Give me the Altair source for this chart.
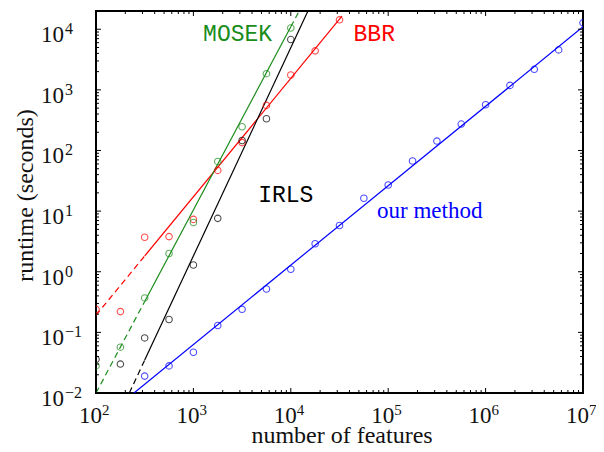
import altair as alt
import pandas as pd

# ---------------- data ----------------
features = [100, 178, 316, 562, 1000, 1778, 3162, 5623, 10000, 17783, 31623,
            56234, 100000, 177828, 316228, 562341, 1000000, 1778279, 3162278,
            5623413, 10000000]

bbr_runtime = [0.24, 0.22, 3.7, 3.8, 7.3, 47, 135, 555, 1760, 4400, 14300]
mosek_runtime = [0.028, 0.057, 0.37, 2.0, 6.5, 66, 246, 1850, 10500]
irls_runtime = [0.036, 0.030, 0.081, 0.163, 1.29, 7.6, 146, 334, 6760]
ours_runtime = [0.019, 0.028, 0.047, 0.13, 0.24, 0.52, 1.1, 2.9, 5.8, 16.3,
                27, 67, 143, 273, 569, 1186, 2183, 4565, 12760]

# fitted trend-line segments (series, style, x0, y0, x1, y1)
fit_series = ["BBR", "BBR", "MOSEK", "MOSEK", "MOSEK", "IRLS", "IRLS", "ours"]
fit_style = ["dashed", "solid", "dashed", "solid", "dashed", "dashed", "solid", "solid"]
fit_x0 = [100, 316.2, 100, 316.2, 10000, 219.8, 316.2, 245.5]
fit_y0 = [0.192, 1.82, 0.01, 0.3236, 10965, 0.01, 0.0349, 0.01]
fit_x1 = [316.2, 33500, 316.2, 10000, 12190, 316.2, 15000, 10000000]
fit_y1 = [1.82, 16400, 0.3236, 10965, 20000, 0.0349, 20000, 10965]

# text annotations
label_text = ["MOSEK", "BBR", "IRLS", "our method"]
label_series = ["MOSEK", "BBR", "IRLS", "ours"]
label_x = [1258, 44060, 4624, 76740]
label_y = [6500, 6500, 14.4, 7.64]

series_names = ["BBR", "MOSEK", "IRLS", "ours"]
series_colors = ["#ff0000", "#1a8c1a", "#000000", "#0000ff"]

# tick values and their labels (10 to the power shown)
x_major = [1e2, 1e3, 1e4, 1e5, 1e6, 1e7]
x_exp = ["2", "3", "4", "5", "6", "7"]
y_major = [1e-2, 1e-1, 1e0, 1e1, 1e2, 1e3, 1e4]
y_exp = ["\u22122", "\u22121", "0", "1", "2", "3", "4"]
x_minor = [k * 10.0 ** e for e in range(2, 7) for k in range(2, 10)]
y_minor = [k * 10.0 ** e for e in range(-2, 4) for k in range(2, 10)]

# ---------------- tables ----------------
rows = []
for name, vals, offset in [("BBR", bbr_runtime, 0), ("MOSEK", mosek_runtime, 0),
                           ("IRLS", irls_runtime, 0), ("ours", ours_runtime, 2)]:
    for i, v in enumerate(vals):
        rows.append({"series": name, "features": features[i + offset], "runtime": v})
points_df = pd.DataFrame(rows)

fits_df = pd.DataFrame({"series": fit_series, "style": fit_style,
                        "x0": fit_x0, "y0": fit_y0, "x1": fit_x1, "y1": fit_y1})
labels_df = pd.DataFrame({"text": label_text, "series": label_series,
                          "x": label_x, "y": label_y})
xlab_df = pd.DataFrame({"v": x_major, "base": ["10"] * len(x_major), "exp": x_exp})
ylab_df = pd.DataFrame({"v": y_major, "base": ["10"] * len(y_major), "exp": y_exp})

W, H = 487, 382
XDOM = [1e2, 1e7]
YDOM = [1e-2, 2e4]

SERIF = "Liberation Serif"
MONO = "Liberation Mono"
TXT = "#111111"

xscale = alt.Scale(type="log", domain=XDOM, nice=False)
yscale = alt.Scale(type="log", domain=YDOM, nice=False)
color = alt.Color("series:N", scale=alt.Scale(domain=series_names, range=series_colors), legend=None)

x_axis = alt.Axis(values=x_major, labels=False, ticks=False, tickSize=0, grid=False,
                  domain=False,
                  title="number of features", titleFont=SERIF, titleFontSize=24,
                  titleFontWeight="normal", titleColor=TXT, titleBaseline="alphabetic",
                  titleY=49, titleX=W / 2 + 2)
y_axis = alt.Axis(values=y_major, labels=False, ticks=False, tickSize=0, grid=False,
                  domain=False,
                  title="runtime (seconds)", titleFont=SERIF, titleFontSize=24,
                  titleFontWeight="normal", titleColor=TXT, titleBaseline="alphabetic",
                  titleAngle=-90, titleX=-64, titleY=184, titleAlign="center")

base_x = alt.X("features:Q", scale=xscale, axis=x_axis)
base_y = alt.Y("runtime:Q", scale=yscale, axis=y_axis)

pts = alt.Chart(points_df).mark_point(shape="circle", filled=False, size=42,
                                      strokeWidth=1.1, clip=True).encode(
    x=base_x, y=base_y, color=color)

solid = alt.Chart(fits_df).transform_filter("datum.style == 'solid'").mark_rule(
    strokeWidth=1.2, clip=True).encode(
    x=alt.X("x0:Q", scale=xscale), x2="x1:Q",
    y=alt.Y("y0:Q", scale=yscale), y2="y1:Q", color=color)
dashed = alt.Chart(fits_df).transform_filter("datum.style == 'dashed'").mark_rule(
    strokeWidth=1.2, strokeDash=[6, 4], clip=True).encode(
    x=alt.X("x0:Q", scale=xscale), x2="x1:Q",
    y=alt.Y("y0:Q", scale=yscale), y2="y1:Q", color=color)

mono_labels = alt.Chart(labels_df).transform_filter("datum.series != 'ours'").mark_text(
    font=MONO, fontSize=23, align="left", baseline="alphabetic").encode(
    x=alt.X("x:Q", scale=xscale), y=alt.Y("y:Q", scale=yscale), text="text:N", color=color)
serif_labels = alt.Chart(labels_df).transform_filter("datum.series == 'ours'").mark_text(
    font=SERIF, fontSize=23, align="left", baseline="alphabetic").encode(
    x=alt.X("x:Q", scale=xscale), y=alt.Y("y:Q", scale=yscale), text="text:N", color=color)

# tick labels as "10" with a raised exponent
xlab_base = alt.Chart(xlab_df).mark_text(font=SERIF, fontSize=23, color=TXT, align="right",
                                         baseline="alphabetic", dx=6).encode(
    x=alt.X("v:Q", scale=xscale), y=alt.value(H + 30), text="base:N")
xlab_exp = alt.Chart(xlab_df).mark_text(font=SERIF, fontSize=15, color=TXT, align="left",
                                        baseline="alphabetic", dx=6).encode(
    x=alt.X("v:Q", scale=xscale), y=alt.value(H + 22), text="exp:N")
ylab_base = alt.Chart(ylab_df).mark_text(font=SERIF, fontSize=23, color=TXT, align="left",
                                         baseline="alphabetic", dy=13).encode(
    y=alt.Y("v:Q", scale=yscale), x=alt.value(-55), text="base:N")
ylab_exp = alt.Chart(ylab_df).mark_text(font=SERIF, fontSize=16, color=TXT, align="left",
                                        baseline="alphabetic", dy=5).encode(
    y=alt.Y("v:Q", scale=yscale), x=alt.value(-31), text="exp:N")

# inward ticks on all four sides
xmaj_df = pd.DataFrame({"v": x_major})
xmin_df = pd.DataFrame({"v": x_minor})
ymaj_df = pd.DataFrame({"v": y_major})
ymin_df = pd.DataFrame({"v": y_minor})


def xticks(df, length):
    b = alt.Chart(df).mark_rule(color="black", strokeWidth=1).encode(
        x=alt.X("v:Q", scale=xscale), y=alt.value(H), y2=alt.value(H - length))
    t = alt.Chart(df).mark_rule(color="black", strokeWidth=1).encode(
        x=alt.X("v:Q", scale=xscale), y=alt.value(0), y2=alt.value(length))
    return [b, t]


def yticks(df, length):
    l = alt.Chart(df).mark_rule(color="black", strokeWidth=1).encode(
        y=alt.Y("v:Q", scale=yscale), x=alt.value(0), x2=alt.value(length))
    r = alt.Chart(df).mark_rule(color="black", strokeWidth=1).encode(
        y=alt.Y("v:Q", scale=yscale), x=alt.value(W), x2=alt.value(W - length))
    return [l, r]


tick_layers = xticks(xmaj_df, 5) + xticks(xmin_df, 3) + yticks(ymaj_df, 5) + yticks(ymin_df, 3)

chart = alt.layer(dashed, solid, pts, mono_labels, serif_labels,
                  xlab_base, xlab_exp, ylab_base, ylab_exp, *tick_layers).properties(
    width=W, height=H,
    autosize=alt.AutoSizeParams(type="none"),
    padding={"left": 88, "top": 3, "right": 13, "bottom": 51},
    background="white",
).configure_view(stroke="black", strokeWidth=2)

chart.save("out.html", embed_options={"renderer": "svg", "actions": False})
